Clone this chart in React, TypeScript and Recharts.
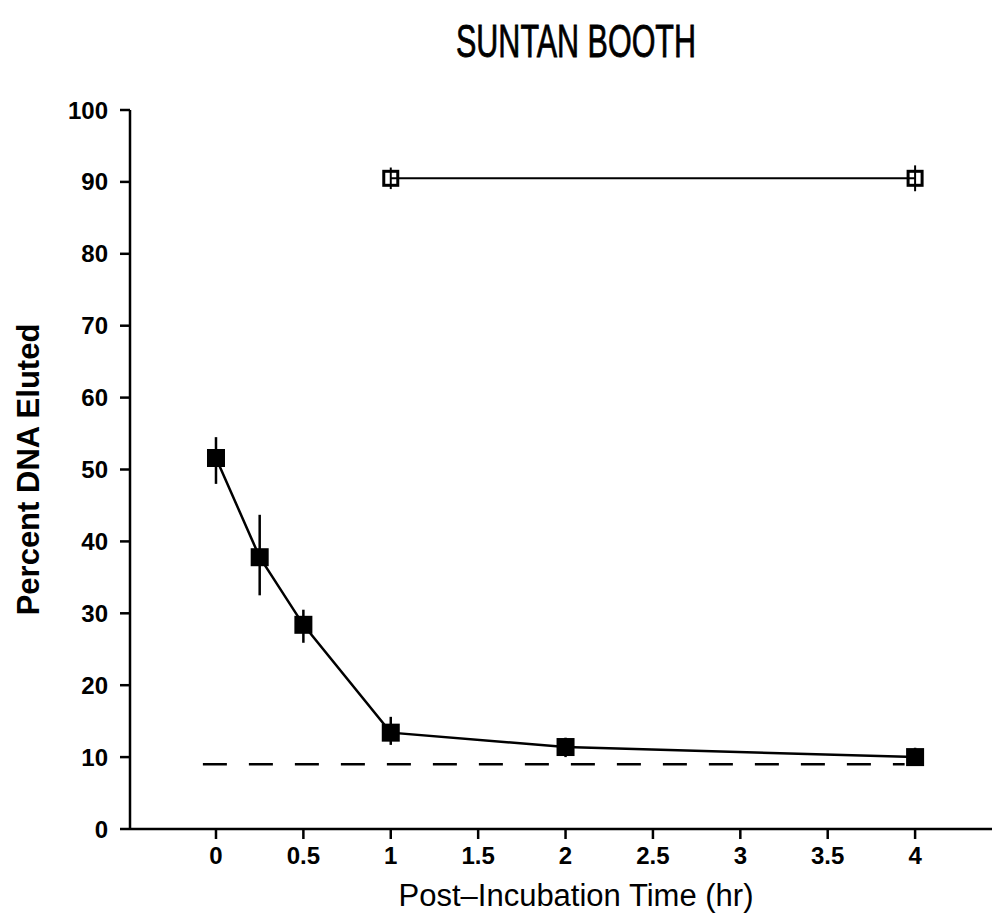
import React from 'react';
import { LineChart, Line, XAxis, YAxis, ErrorBar, ReferenceLine, Label } from 'recharts';

// post-incubation times (hr)
const filledTimes = [0, 0.25, 0.5, 1, 2, 4];
const filledValues = [51.6, 37.8, 28.4, 13.4, 11.4, 10.0];
const filledErrDown = [3.6, 5.3, 2.5, 1.7, 1.4, 1.2];
const filledErrUp = [2.9, 5.9, 2.1, 2.2, 1.3, 1.3];

const openTimes = [1, 4];
const openValues = [90.5, 90.5];
const openErr = [1.5, 1.8];

const baselineValue = 9;
const baselineStart = -0.075;
const baselineEnd = 3.94;

const xTicks = [0, 0.5, 1, 1.5, 2, 2.5, 3, 3.5, 4];
const yTicks = [0, 10, 20, 30, 40, 50, 60, 70, 80, 90, 100];

const filledData = filledTimes.map((t, i) => ({
    t,
    v: filledValues[i],
    err: [filledErrDown[i], filledErrUp[i]],
}));

const openData = openTimes.map((t, i) => ({
    t,
    v: openValues[i],
    err: openErr[i],
}));

const FONT = '"Liberation Sans", Arial, sans-serif';
const X_LABEL = 'Post\u2013Incubation Time (hr)';

const FilledSquare = (props: any) => {
    const { cx, cy, index } = props;
    return <rect key={`f-${index}`} x={cx - 9} y={cy - 9} width={18} height={18} fill="#000" />;
};

const OpenSquare = (props: any) => {
    const { cx, cy, index } = props;
    return (
        <rect
            key={`o-${index}`}
            x={cx - 7}
            y={cy - 7}
            width={14}
            height={14}
            fill="none"
            stroke="#000"
            strokeWidth={3}
        />
    );
};

export default function App() {
    return (
        <div style={{ position: 'absolute', left: 0, top: 0, width: 992, height: 920, background: '#fff' }}>
            <svg width={992} height={100} style={{ position: 'absolute', left: 0, top: 0 }}>
                <text
                    x={576}
                    y={57}
                    textAnchor="middle"
                    fontFamily={FONT}
                    fontSize={46}
                    textLength={240}
                    lengthAdjust="spacingAndGlyphs"
                    fill="#000"
                    stroke="#000"
                    strokeWidth={0.8}
                >
                    SUNTAN BOOTH
                </text>
            </svg>
            <LineChart
                width={992}
                height={920}
                margin={{ top: 110, right: 0, bottom: 31, left: 0 }}
                style={{ position: 'absolute', left: 0, top: 0 }}
            >
                <XAxis
                    type="number"
                    dataKey="t"
                    domain={[-0.492, 4.44]}
                    allowDataOverflow
                    ticks={xTicks}
                    interval={0}
                    height={60}
                    tickSize={10}
                    tickMargin={8}
                    stroke="#000"
                    strokeWidth={2.5}
                    fontSize={24}
                    tick={{ fill: '#000', fontSize: 24, fontWeight: 700, fontFamily: FONT }}
                >
                    <Label
                        content={() => (
                            <text
                                x={576}
                                y={895}
                                textAnchor="middle"
                                dominantBaseline="central"
                                fontFamily={FONT}
                                fontSize={31}
                                fill="#000"
                            >
                                {X_LABEL}
                            </text>
                        )}
                    />
                </XAxis>
                <YAxis
                    type="number"
                    domain={[0, 100]}
                    ticks={yTicks}
                    interval={0}
                    width={130}
                    tickSize={10}
                    tickMargin={12}
                    stroke="#000"
                    strokeWidth={2.5}
                    fontSize={24}
                    tick={{ fill: '#000', fontSize: 24, fontWeight: 700, fontFamily: FONT }}
                >
                    <Label
                        content={(props: any) => {
                            const vb = props.viewBox;
                            const cx = 28;
                            const cy = vb.y + vb.height / 2;
                            return (
                                <text
                                    x={cx}
                                    y={cy}
                                    transform={`rotate(-90 ${cx} ${cy})`}
                                    textAnchor="middle"
                                    dominantBaseline="central"
                                    fontFamily={FONT}
                                    fontSize={31}
                                    fontWeight={700}
                                    fill="#000"
                                >
                                    Percent DNA Eluted
                                </text>
                            );
                        }}
                    />
                </YAxis>
                <ReferenceLine
                    segment={[
                        { x: baselineStart, y: baselineValue },
                        { x: baselineEnd, y: baselineValue },
                    ]}
                    stroke="#000"
                    strokeWidth={2.5}
                    strokeDasharray="24 22"
                    ifOverflow="visible"
                />
                <Line
                    data={openData}
                    dataKey="v"
                    stroke="#000"
                    strokeWidth={2}
                    dot={OpenSquare}
                    activeDot={false}
                    isAnimationActive={false}
                >
                    <ErrorBar dataKey="err" direction="y" width={0} stroke="#000" strokeWidth={2} />
                </Line>
                <Line
                    data={filledData}
                    dataKey="v"
                    stroke="#000"
                    strokeWidth={2.5}
                    dot={FilledSquare}
                    activeDot={false}
                    isAnimationActive={false}
                >
                    <ErrorBar dataKey="err" direction="y" width={0} stroke="#000" strokeWidth={2.5} />
                </Line>
            </LineChart>
        </div>
    );
}
